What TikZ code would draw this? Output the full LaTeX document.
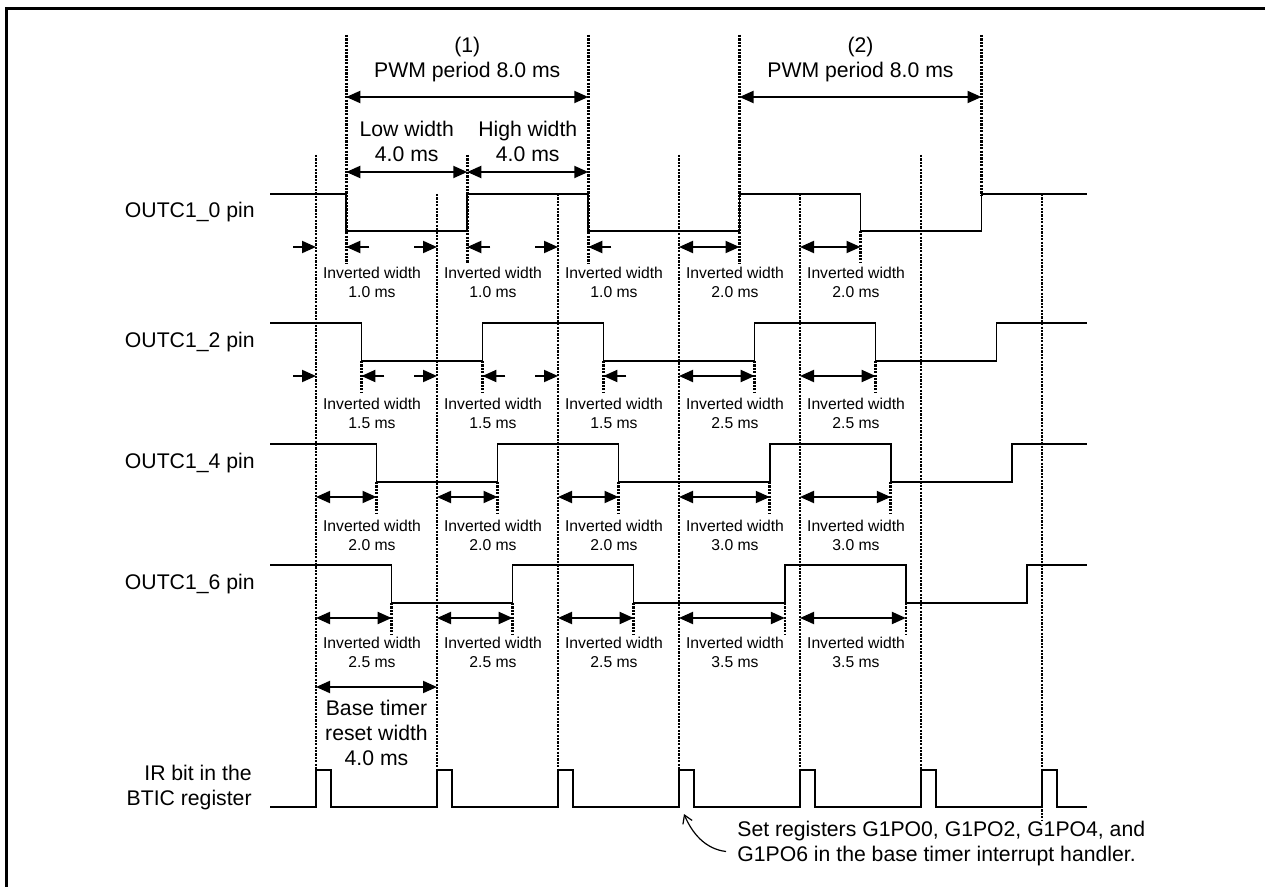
\documentclass[tikz,border=0pt]{standalone}
\usepackage{fontspec}
\setmainfont{Liberation Sans}
\usepackage{tikz}
\usetikzlibrary{arrows.meta,positioning,calc}

\begin{document}
\begin{tikzpicture}[x=0.5pt,y=-0.5pt,
    sig/.style={line width=0.85pt,line join=miter},
    guide/.style={line width=1.3pt,dash pattern=on 1.1pt off 0.6pt},
    dim/.style={{Triangle[length=7pt,width=6pt]}-{Triangle[length=7pt,width=6pt]},line width=1pt},
    ptr/.style={-{Triangle[length=7pt,width=6pt]},line width=1pt},
    big/.style={font=\fontsize{10.6}{12.5}\selectfont,align=center,inner sep=0pt},
    small/.style={font=\fontsize{7.85}{9.5}\selectfont,align=center,inner sep=0pt},
    pinlabel/.style={font=\fontsize{10.6}{12.5}\selectfont,align=right,anchor=east,inner sep=0pt}
]
\useasboundingbox (0,0) rectangle (1265,887);
% frame
\draw[line width=1.5pt,line join=miter] (6.5,887) -- (6.5,8.5) -- (1265,8.5);

% base timer reset guides
\foreach \t/\top in {0/155,4/194,8/194,12/155,16/194,20/155}
  \draw[guide] ({316+30.25*\t},\top) -- ({316+30.25*\t},770);
\draw[guide] (1042,194) -- (1042,820);

% period guides
\foreach \t in {1,9,14}
  \draw[guide] ({316+30.25*\t},35) -- ({316+30.25*\t},263);
\draw[guide] (981.5,35) -- (981.5,195);
\draw[guide] (467.25,155) -- (467.25,263);
\draw[guide] (860.5,231) -- (860.5,263);
\foreach \d/\lo in {1.5/361,2/482,2.5/603}
  \foreach \t in {0,4,8,13,17}
    \draw[guide] ({316+30.25*(\t+\d)},\lo) -- ({316+30.25*(\t+\d)},{\lo+31});

% output waveforms
\foreach \d/\hi/\lo/\nm/\txt in {1/194/231/p0/OUTC1\_0 pin,1.5/323/361/p2/OUTC1\_2 pin,
                                 2/444/482/p4/OUTC1\_4 pin,2.5/565/603/p6/OUTC1\_6 pin}{
  \node[pinlabel] (\nm) at (255,{(\hi+\lo)/2}) {\txt};
  \draw[sig] (270,\hi) -| ({316+30.25*\d},\lo) -| ({316+30.25*(4+\d)},\hi)
    -| ({316+30.25*(8+\d)},\lo) -| ({316+30.25*(13+\d)},\hi)
    -| ({316+30.25*(17+\d)},\lo) -| ({316+30.25*(21+\d)},\hi) -- (1087,\hi);
}

% inverted widths, narrow ones marked from outside
\foreach \d/\y in {1/247,1.5/376}{
  \foreach \t in {0,4,8}{
    \draw[ptr] ({316+30.25*\t-23},\y) -- ({316+30.25*\t},\y);
    \draw[ptr] ({316+30.25*(\t+\d)+23},\y) -- ({316+30.25*(\t+\d)},\y);
  }
}
\foreach \d/\y in {1/247,1.5/376,2/497,2.5/618}{
  \foreach \t in {12,16}
    \draw[dim] ({316+30.25*\t},\y) -- ({316+30.25*(\t+\d+1)},\y);
}
\foreach \d/\y in {2/497,2.5/618}{
  \foreach \t in {0,4,8}
    \draw[dim] ({316+30.25*\t},\y) -- ({316+30.25*(\t+\d)},\y);
}
\foreach \r/\y/\va/\vb in {0/282/1.0/2.0,2/413/1.5/2.5,4/535/2.0/3.0,6/652/2.5/3.5}{
  \foreach \t in {0,4,8}
    \node[small] (inv-\r-\t) at ({372+30.25*\t},\y) {Inverted width\\\va\ ms};
  \foreach \t in {12,16}
    \node[small] (inv-\r-\t) at ({372+30.25*\t},\y) {Inverted width\\\vb\ ms};
}

% PWM periods
\node[big] (per1) at (467.25,60) {(1)\\PWM period 8.0 ms};
\node[big] (per2) at (860.5,60) {(2)\\PWM period 8.0 ms};
\draw[dim] (346.25,97) -- (588.25,97);
\draw[dim] (739.5,97) -- (981.5,97);
\node[big] (low) at (406.75,141) {Low width\\4.0 ms};
\node[big] (high) at (527.75,141) {High width\\4.0 ms};
\draw[dim] (346.25,172) -- (467.25,172);
\draw[dim] (467.25,172) -- (588.25,172);

% base timer
\draw[dim] (316,687) -- (437,687);
\node[big] (reset) at (376.5,733) {Base timer\\reset width\\4.0 ms};

% IR bit
\node[pinlabel] (ir) at (252,788) {IR bit in the\\BTIC register};
\draw[sig] (270,807)
  \foreach \t in {0,4,...,24}{ -- ({316+30.25*\t},807) -- ({316+30.25*\t},770)
    -- ({331+30.25*\t},770) -- ({331+30.25*\t},807) } -- (1087,807);

\node[big,align=left,anchor=west] (note) at (737,843.5)
  {Set registers G1PO0, G1PO2, G1PO4, and\\G1PO6 in the base timer interrupt handler.};
\coordinate (irq) at (684,814);
\draw[-{Straight Barb[length=4pt,width=5pt]},line width=0.6pt]
  ($(note.west)+(-11,8)$) .. controls (705,849) and (692,833) .. (irq);
\end{tikzpicture}
\end{document}
